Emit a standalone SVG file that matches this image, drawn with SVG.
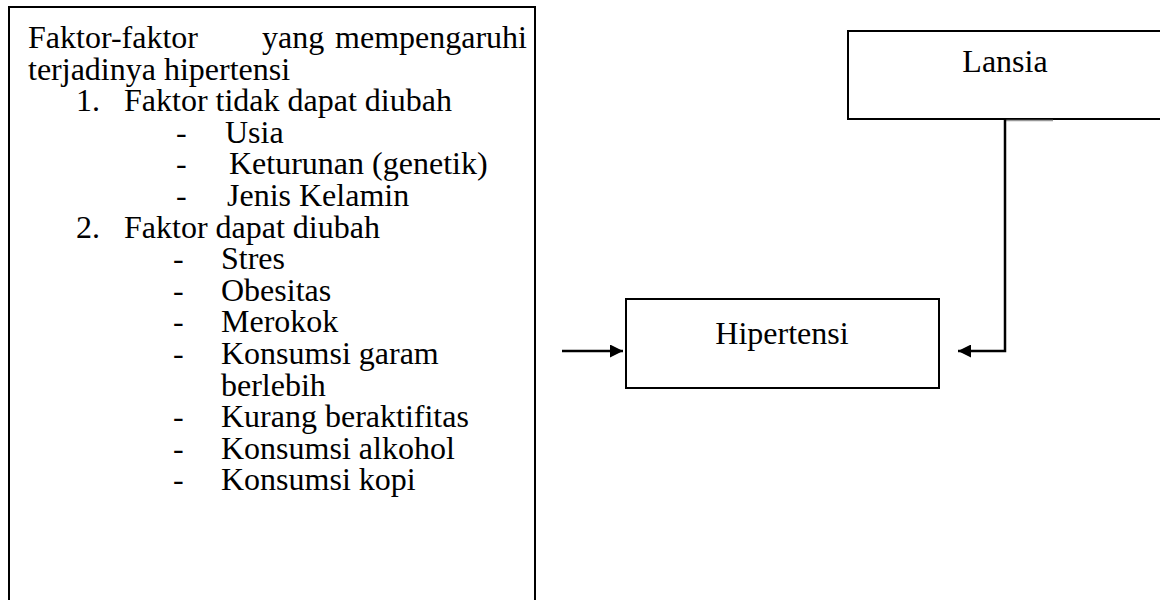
<svg xmlns="http://www.w3.org/2000/svg" width="1160" height="600" viewBox="0 0 1160 600">
<defs>
<style>
.box{fill:#fff;stroke:#000;stroke-width:2}
.t{font-family:"Liberation Serif","Times New Roman",serif;font-size:32px;fill:#000}
.c{text-anchor:middle}
.line{fill:none;stroke:#000;stroke-width:2.5}
</style>
<marker id="ah" viewBox="0 0 10 10" refX="10" refY="5" markerWidth="16" markerHeight="13" markerUnits="userSpaceOnUse" orient="auto">
<path d="M0,0 L10,5 L0,10 z" fill="#000"/>
</marker>
</defs>
<rect width="1160" height="600" fill="#fff"/>
<g id="faktor">
<rect class="box" x="9" y="7" width="526" height="600"/>
<text class="t" x="28" y="48">Faktor-faktor</text>
<text class="t" x="262" y="48">yang</text>
<text class="t" x="527" y="48" text-anchor="end">mempengaruhi</text>
<text class="t" x="28" y="80">terjadinya hipertensi</text>
<text class="t" x="76" y="111">1.</text>
<text class="t" x="124" y="111">Faktor tidak dapat diubah</text>
<text class="t" x="176" y="143">-</text><text class="t" x="225" y="143">Usia</text>
<text class="t" x="176" y="174">-</text><text class="t" x="229" y="174">Keturunan (genetik)</text>
<text class="t" x="176" y="206">-</text><text class="t" x="227" y="206">Jenis Kelamin</text>
<text class="t" x="76" y="238">2.</text>
<text class="t" x="124" y="238">Faktor dapat diubah</text>
<text class="t" x="173" y="269">-</text><text class="t" x="221" y="269">Stres</text>
<text class="t" x="173" y="301">-</text><text class="t" x="221" y="301">Obesitas</text>
<text class="t" x="173" y="332">-</text><text class="t" x="221" y="332">Merokok</text>
<text class="t" x="173" y="364">-</text><text class="t" x="221" y="364">Konsumsi garam</text>
<text class="t" x="221" y="396">berlebih</text>
<text class="t" x="173" y="427">-</text><text class="t" x="221" y="427">Kurang beraktifitas</text>
<text class="t" x="173" y="459">-</text><text class="t" x="221" y="459">Konsumsi alkohol</text>
<text class="t" x="173" y="490">-</text><text class="t" x="221" y="490">Konsumsi kopi</text>
</g>
<g id="lansia">
<rect class="box" x="848" y="31" width="320" height="88"/>
<text class="t c" x="1005" y="72">Lansia</text>
</g>
<g id="hipertensi">
<rect class="box" x="626" y="299" width="313" height="89"/>
<text class="t c" x="782" y="344">Hipertensi</text>
</g>
<g id="connectors">
<line x1="1005" y1="120.5" x2="1053" y2="120.5" stroke="#999" stroke-width="1.5"/>
<path class="line" d="M1005,119 L1005,351 L958,351" marker-end="url(#ah)"/>
<path class="line" d="M562,351 L623,351" marker-end="url(#ah)"/>
</g>
</svg>
